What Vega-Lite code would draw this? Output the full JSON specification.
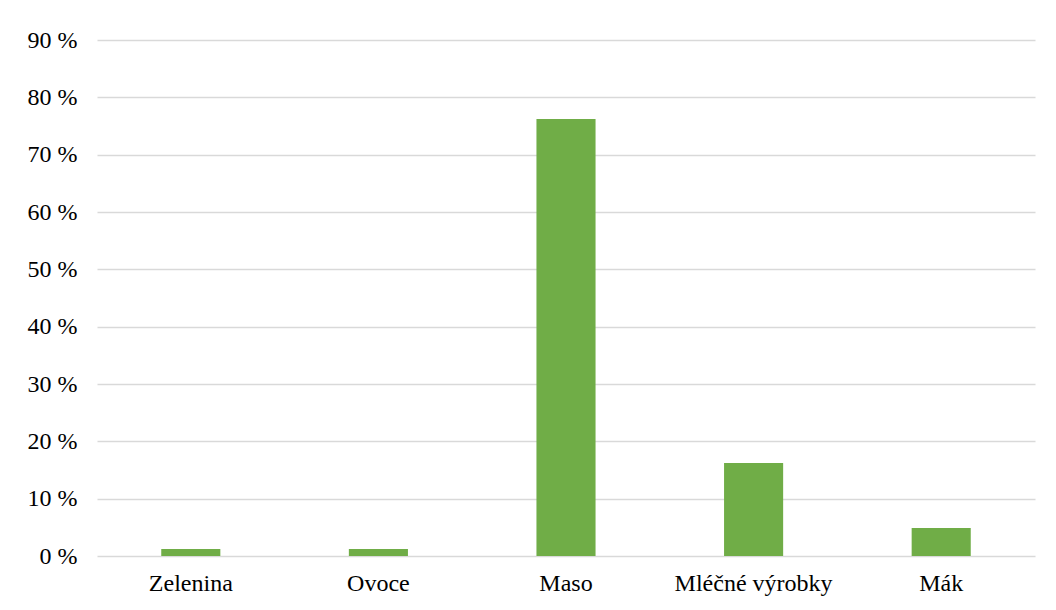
{
  "$schema": "https://vega.github.io/schema/vega-lite/v6.json",
  "width": 938,
  "height": 516,
  "autosize": {"type": "none"},
  "padding": {"left": 97, "top": 40, "right": 21, "bottom": 54},
  "background": "white",
  "data": {"values": [
    {"kategorie": "Zelenina", "podil": 1.2},
    {"kategorie": "Ovoce", "podil": 1.2},
    {"kategorie": "Maso", "podil": 76.2},
    {"kategorie": "Mléčné výrobky", "podil": 16.2},
    {"kategorie": "Mák", "podil": 4.9}
  ]},
  "mark": {"type": "bar", "color": "#70AD47"},
  "encoding": {
    "x": {
      "field": "kategorie", "type": "nominal", "sort": null,
      "scale": {"paddingInner": 0.685, "paddingOuter": 0.3425},
      "axis": {"title": null, "labelAngle": 0, "ticks": false, "domain": false,
        "labelFont": "Liberation Serif", "labelFontSize": 24, "labelColor": "#000000", "labelPadding": 15}
    },
    "y": {
      "field": "podil", "type": "quantitative",
      "scale": {"domain": [0, 90]},
      "axis": {"title": null, "values": [0,10,20,30,40,50,60,70,80,90], "labelExpr": "datum.value + ' %'",
        "ticks": false, "domain": false, "gridColor": "#d9d9d9", "gridWidth": 1.5,
        "labelFont": "Liberation Serif", "labelFontSize": 24, "labelColor": "#000000", "labelPadding": 20}
    }
  },
  "config": {"view": {"stroke": null}}
}
